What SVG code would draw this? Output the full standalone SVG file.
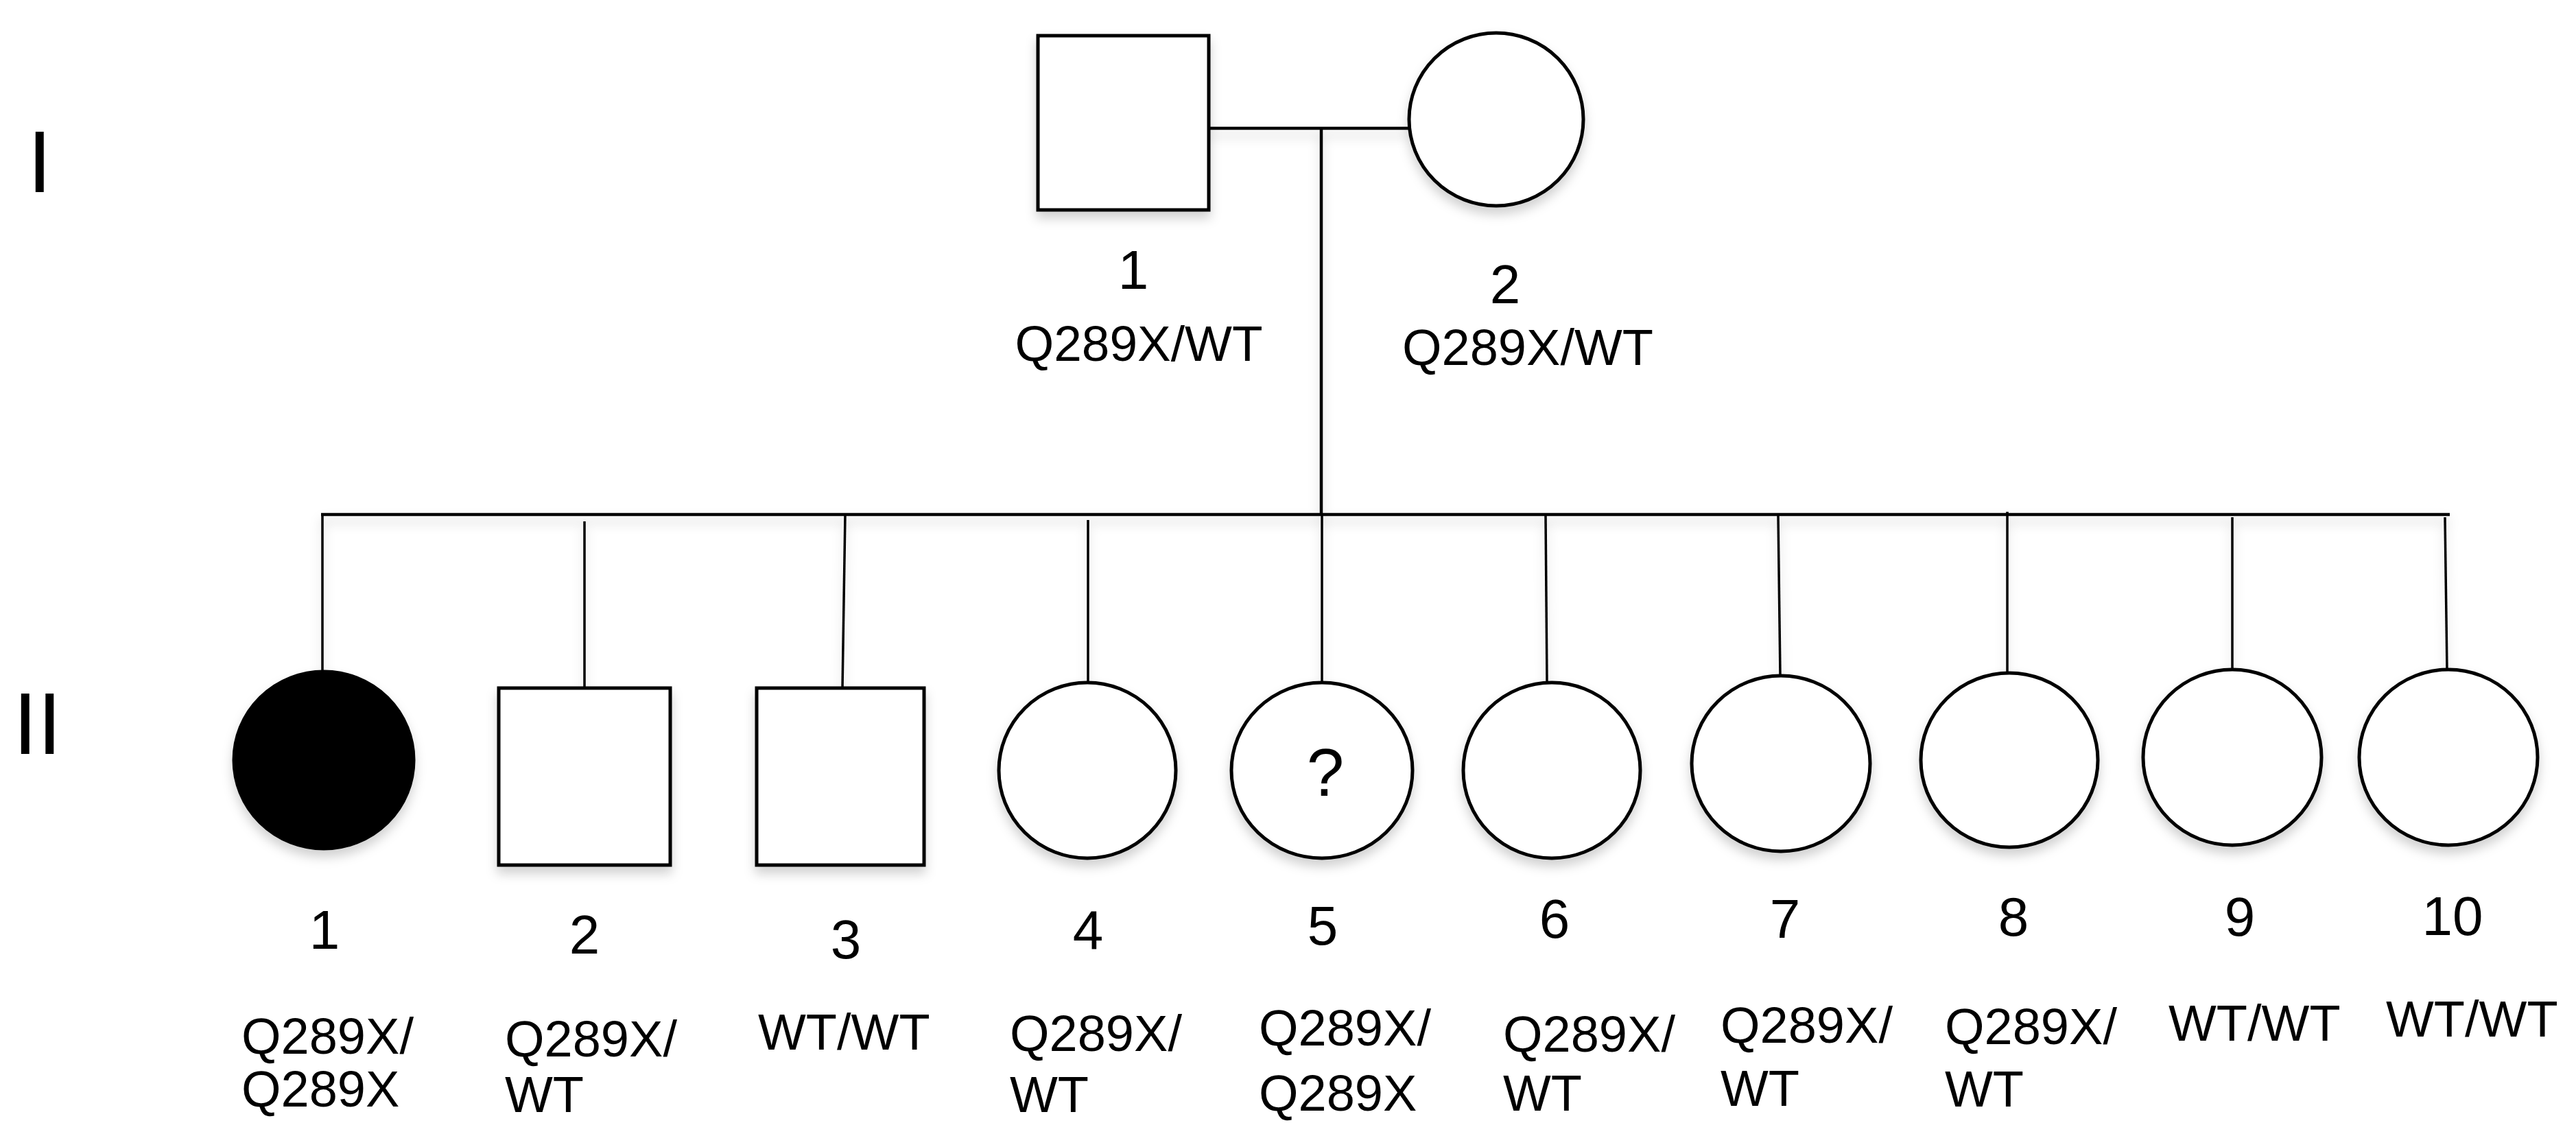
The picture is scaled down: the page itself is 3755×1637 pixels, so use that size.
<svg xmlns="http://www.w3.org/2000/svg" width="3755" height="1637" viewBox="0 0 3755 1637">
<style>
.shape{fill:#fff;stroke:#000;stroke-width:5}
.affected{fill:#000;stroke:#000;stroke-width:3}
.line{stroke:#000;stroke-width:4.5;fill:none;stroke-linecap:butt}
.cline{stroke:#000;stroke-width:3.5;fill:none}
.t{font-family:"Liberation Sans",Arial,sans-serif;fill:#000}
.gen{font-size:128px}
.num{font-size:80px;text-anchor:middle}
.geno{font-size:74px}
.genoc{font-size:73px;text-anchor:middle}
.q{font-size:98px;text-anchor:middle}
</style>
<defs>
<filter id="sh" x="-20%" y="-20%" width="140%" height="150%">
<feDropShadow dx="0" dy="10" stdDeviation="8" flood-color="#000" flood-opacity="0.18"/>
</filter>
</defs>
<rect width="3755" height="1637" fill="#fff"/>

<g id="generation-labels">
<text class="t gen" x="40" y="280">I</text>
<text class="t gen" x="19" y="1099">II</text>
</g>

<g id="connectors" filter="url(#sh)">
<line class="line" x1="1762" y1="187" x2="2054" y2="187"/>
<line class="line" x1="1926" y1="187" x2="1926" y2="750"/>
<line class="line" x1="468" y1="750" x2="3571" y2="750"/>
<line class="cline" x1="470" y1="750" x2="470" y2="980"/>
<line class="cline" x1="852" y1="760" x2="852" y2="1003"/>
<line class="cline" x1="1232" y1="750" x2="1228" y2="1003"/>
<line class="cline" x1="1586" y1="758" x2="1586" y2="995"/>
<line class="cline" x1="1927" y1="750" x2="1927" y2="995"/>
<line class="cline" x1="2253" y1="752" x2="2255" y2="995"/>
<line class="cline" x1="2592" y1="752" x2="2595" y2="985"/>
<line class="cline" x1="2926" y1="746" x2="2926" y2="980"/>
<line class="cline" x1="3254" y1="754" x2="3254" y2="977"/>
<line class="cline" x1="3564" y1="754" x2="3567" y2="977"/>
</g>

<g id="I-1">
<rect class="shape" x="1513" y="52" width="249" height="254" filter="url(#sh)"/>
<text class="t num" x="1652" y="421">1</text>
<text class="t genoc" x="1660" y="526">Q289X/WT</text>
</g>
<g id="I-2">
<ellipse class="shape" cx="2181" cy="174" rx="127" ry="126" filter="url(#sh)"/>
<text class="t num" x="2194" y="442">2</text>
<text class="t geno" x="2044" y="532">Q289X/WT</text>
</g>

<g id="II-1">
<ellipse class="affected" cx="472" cy="1108" rx="132" ry="130" filter="url(#sh)"/>
<text class="t num" x="473" y="1383">1</text>
<text class="t geno" x="352" y="1536">Q289X/</text>
<text class="t geno" x="352" y="1613">Q289X</text>
</g>
<g id="II-2">
<rect class="shape" x="727" y="1003" width="250" height="258" filter="url(#sh)"/>
<text class="t num" x="852" y="1390">2</text>
<text class="t geno" x="736" y="1540">Q289X/</text>
<text class="t geno" x="736" y="1621">WT</text>
</g>
<g id="II-3">
<rect class="shape" x="1103" y="1003" width="244" height="258" filter="url(#sh)"/>
<text class="t num" x="1233" y="1397">3</text>
<text class="t geno" x="1105" y="1530">WT/WT</text>
</g>
<g id="II-4">
<ellipse class="shape" cx="1585" cy="1123" rx="129" ry="128" filter="url(#sh)"/>
<text class="t num" x="1586" y="1383">4</text>
<text class="t geno" x="1472" y="1532">Q289X/</text>
<text class="t geno" x="1472" y="1621">WT</text>
</g>
<g id="II-5">
<ellipse class="shape" cx="1927" cy="1123" rx="132" ry="128" filter="url(#sh)"/>
<text class="t q" x="1932" y="1160">?</text>
<text class="t num" x="1928" y="1377">5</text>
<text class="t geno" x="1835" y="1524">Q289X/</text>
<text class="t geno" x="1835" y="1619">Q289X</text>
</g>
<g id="II-6">
<ellipse class="shape" cx="2262" cy="1123" rx="129" ry="128" filter="url(#sh)"/>
<text class="t num" x="2266" y="1367">6</text>
<text class="t geno" x="2191" y="1533">Q289X/</text>
<text class="t geno" x="2191" y="1619">WT</text>
</g>
<g id="II-7">
<ellipse class="shape" cx="2596" cy="1113" rx="130" ry="128" filter="url(#sh)"/>
<text class="t num" x="2602" y="1367">7</text>
<text class="t geno" x="2508" y="1520">Q289X/</text>
<text class="t geno" x="2508" y="1612">WT</text>
</g>
<g id="II-8">
<ellipse class="shape" cx="2929" cy="1108" rx="129" ry="127" filter="url(#sh)"/>
<text class="t num" x="2935" y="1364">8</text>
<text class="t geno" x="2835" y="1522">Q289X/</text>
<text class="t geno" x="2835" y="1613">WT</text>
</g>
<g id="II-9">
<ellipse class="shape" cx="3254" cy="1104" rx="130" ry="128" filter="url(#sh)"/>
<text class="t num" x="3265" y="1364">9</text>
<text class="t geno" x="3161" y="1517">WT/WT</text>
</g>
<g id="II-10">
<ellipse class="shape" cx="3569" cy="1104" rx="130" ry="128" filter="url(#sh)"/>
<text class="t num" x="3575" y="1363">10</text>
<text class="t geno" x="3478" y="1511">WT/WT</text>
</g>
</svg>
